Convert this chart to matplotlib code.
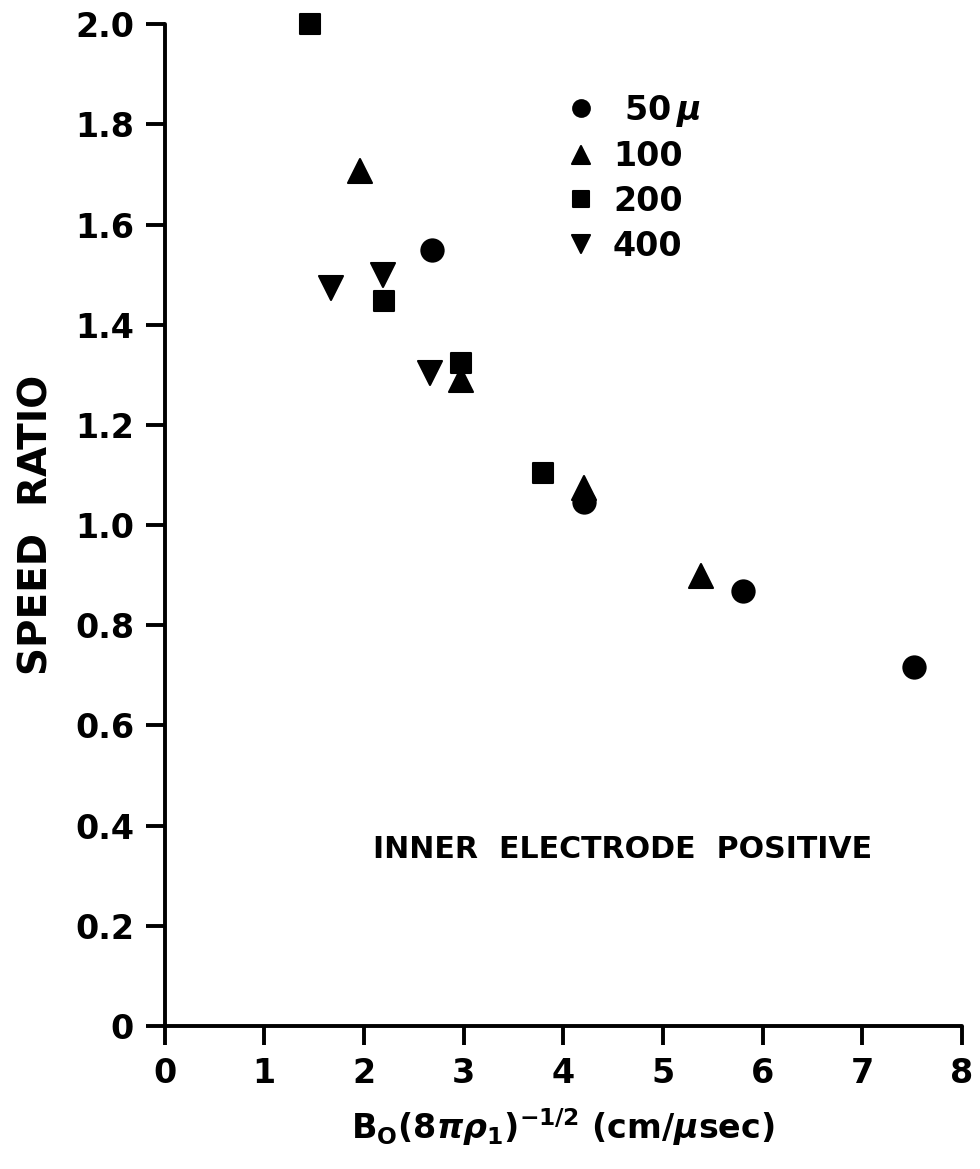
import matplotlib
matplotlib.use("Agg")
import matplotlib.pyplot as plt
from matplotlib.markers import MarkerStyle

plt.rcParams['font.family'] = 'DejaVu Sans'
plt.rcParams['font.weight'] = 'bold'
plt.rcParams['axes.labelweight'] = 'bold'
plt.rcParams['mathtext.fontset'] = 'dejavusans'
plt.rcParams['mathtext.default'] = 'it'

# data
x_50 = [2.68, 4.21, 5.80, 7.52]
y_50 = [1.55, 1.046, 0.868, 0.716]
x_100 = [1.96, 2.97, 4.21, 5.38]
y_100 = [1.706, 1.29, 1.074, 0.898]
x_200 = [1.46, 2.20, 2.97, 3.80]
y_200 = [2.00, 1.448, 1.324, 1.104]
x_400 = [1.67, 2.19, 2.66]
y_400 = [1.474, 1.50, 1.304]

series = [
    (x_50, y_50, 'o', r' 50$\,\mu$'),
    (x_100, y_100, '^', '100'),
    (x_200, y_200, 's', '200'),
    (x_400, y_400, 'v', '400'),
]

xticks = [0, 1, 2, 3, 4, 5, 6, 7, 8]
yticks = [0, 0.2, 0.4, 0.6, 0.8, 1.0, 1.2, 1.4, 1.6, 1.8, 2.0]
ytick_labels = ['0', '0.2', '0.4', '0.6', '0.8', '1.0', '1.2', '1.4', '1.6', '1.8', '2.0']

fig = plt.figure(figsize=(9.8, 11.69), dpi=100)
ax = fig.add_axes([0.168, 0.1223, 0.8135, 0.857])

sizes = {'o': 16, '^': 17, 's': 15, 'v': 17}
for xs, ys, m, lab in series:
    ax.plot(xs, ys, linestyle='none',
            marker=MarkerStyle(m, joinstyle='round'),
            markersize=sizes[m], color='black', mec='black', mew=1.5,
            clip_on=False, label=lab)

ax.set_xlim(0, 8)
ax.set_ylim(0, 2.0)
ax.set_xticks(xticks)
ax.set_yticks(yticks)
ax.set_yticklabels(ytick_labels)

for s in ['top', 'right']:
    ax.spines[s].set_visible(False)
for s in ['left', 'bottom']:
    ax.spines[s].set_linewidth(2.8)
    ax.spines[s].set_capstyle('round')

ax.tick_params(axis='both', direction='out', length=14, width=2.8,
               labelsize=24, pad=8)

ax.set_ylabel('SPEED  RATIO', fontsize=28, labelpad=14)
ax.set_xlabel(r'B$_\mathbf{O}$(8$\pi\rho_\mathbf{1}$)$^\mathbf{-1/2}$ (cm/$\mu$sec)',
              fontsize=24, labelpad=12)

ax.text(2.09, 0.352, 'INNER  ELECTRODE  POSITIVE', fontsize=21.6,
        va='center', ha='left')

ax.legend(loc='upper left', bbox_to_anchor=(0.485, 0.945), frameon=False,
          fontsize=24, markerscale=0.75, handlelength=1.0,
          handletextpad=0.45, labelspacing=0.35, borderaxespad=0)

fig.savefig('out.png', dpi=100)
